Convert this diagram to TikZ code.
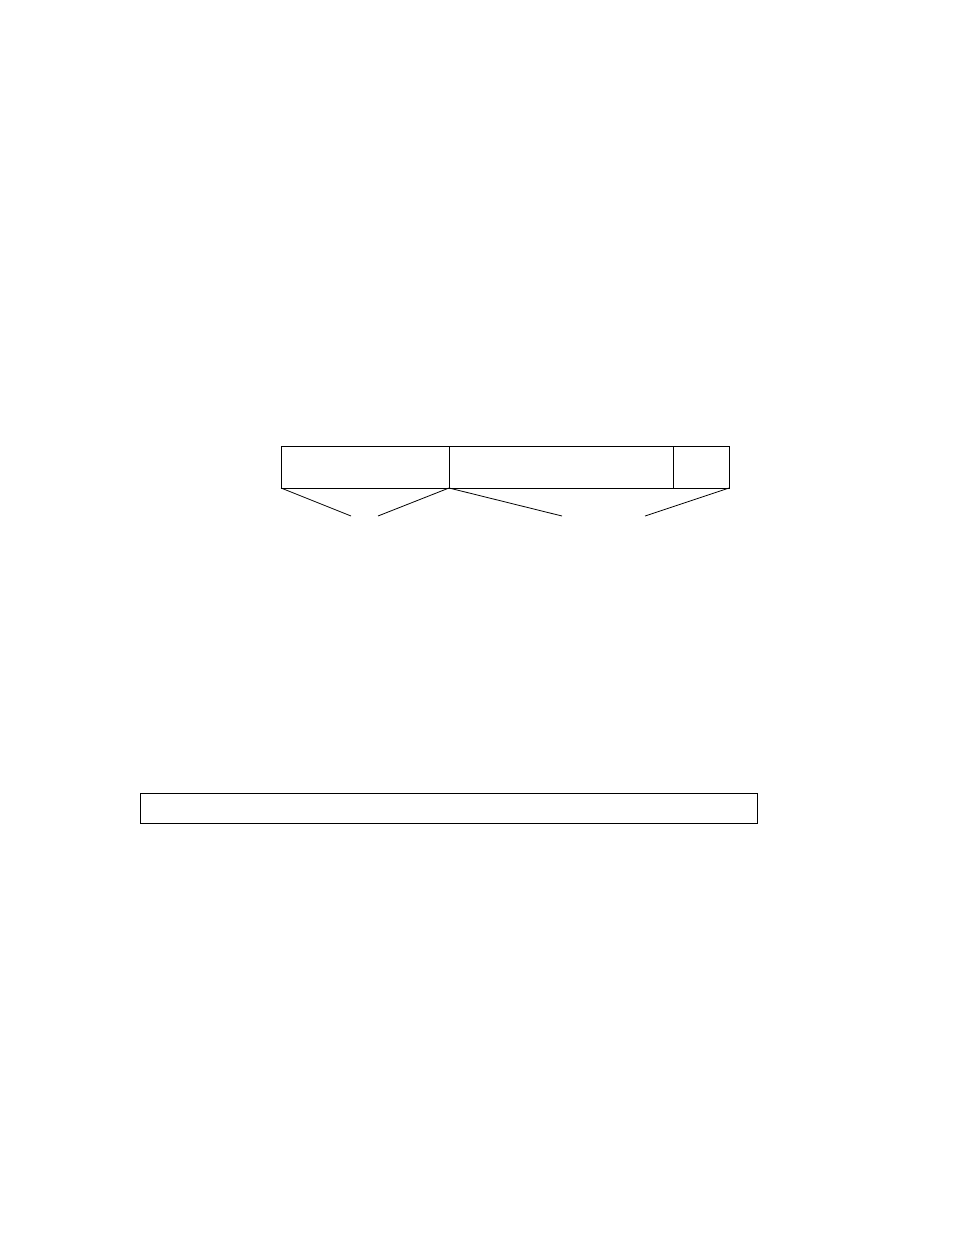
\documentclass[tikz,border=0pt]{standalone}
\begin{document}
\begin{tikzpicture}[x=1pt,y=-1pt,
  cell/.style={draw,line width=1pt,rectangle,inner sep=0pt,outer sep=0pt,anchor=north west},
  leg/.style={line width=0.8pt}]
\useasboundingbox (0,0) rectangle (954,1235);
\node[cell,minimum width=168pt,minimum height=41.5pt] (a) at (281,446.5) {};
\node[cell,minimum width=224pt,minimum height=41.5pt] (b) at (449,446.5) {};
\node[cell,minimum width=56pt,minimum height=41.5pt] (c) at (673,446.5) {};
\coordinate (p1) at (351,516);
\coordinate (p2) at (378,516);
\coordinate (p3) at (562,516);
\coordinate (p4) at (645,516);
\draw[leg] (a.south west) -- (p1);
\draw[leg] (p2) -- (a.south east);
\draw[leg] (b.south west) -- (p3);
\draw[leg] (p4) -- (c.south east);
\node[cell,minimum width=617pt,minimum height=30pt] (d) at (140.3,793.3) {};
\end{tikzpicture}
\end{document}
